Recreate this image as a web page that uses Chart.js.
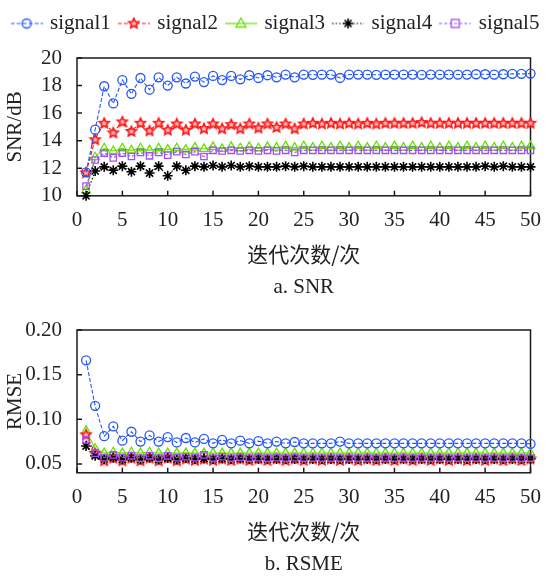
<!DOCTYPE html>
<html><head><meta charset="utf-8">
<script src="https://cdn.jsdelivr.net/npm/chart.js@4.4.0/dist/chart.umd.min.js"></script>
<style>
html,body{margin:0;padding:0;background:#fff;}
#wrap{position:relative;width:553px;height:577px;}
canvas{position:absolute;left:0;}
</style></head><body>
<div id="wrap">
<canvas id="c1" width="553" height="300" style="top:0"></canvas>
<canvas id="c2" width="553" height="277" style="top:300px"></canvas>
</div>
<script>
// ---------- data ----------
const iterations = [1,2,3,4,5,6,7,8,9,10,11,12,13,14,15,16,17,18,19,20,21,22,23,24,25,26,27,28,29,30,31,32,33,34,35,36,37,38,39,40,41,42,43,44,45,46,47,48,49,50];
const xTickValues = [0,5,10,15,20,25,30,35,40,45,50];
const snrTickValues = [10,12,14,16,18,20];
const rmseTickValues = [0.05,0.10,0.15,0.20];
const seriesNames = ['signal1','signal2','signal3','signal4','signal5'];

const snr1 = [11.7,14.8,17.95,16.7,18.4,17.4,18.55,17.7,18.6,18.0,18.6,18.15,18.65,18.25,18.7,18.4,18.7,18.45,18.75,18.55,18.75,18.6,18.8,18.6,18.8,18.78,18.8,18.8,18.55,18.8,18.8,18.8,18.78,18.8,18.8,18.8,18.8,18.78,18.8,18.8,18.8,18.8,18.8,18.82,18.82,18.8,18.82,18.85,18.85,18.87];
const snr2 = [11.7,14.1,15.3,14.6,15.4,14.7,15.3,14.75,15.3,14.8,15.25,14.8,15.25,14.9,15.25,14.9,15.2,14.9,15.25,14.95,15.25,15.0,15.25,14.9,15.25,15.3,15.25,15.3,15.25,15.3,15.25,15.3,15.25,15.3,15.3,15.3,15.3,15.35,15.3,15.3,15.3,15.3,15.3,15.3,15.3,15.3,15.3,15.3,15.3,15.3];
const snr3 = [10.4,12.8,13.45,13.25,13.45,13.3,13.45,13.3,13.45,13.35,13.45,13.35,13.5,13.4,13.55,13.4,13.55,13.45,13.55,13.45,13.55,13.5,13.6,13.5,13.6,13.5,13.6,13.5,13.6,13.5,13.6,13.5,13.6,13.5,13.6,13.5,13.6,13.5,13.6,13.5,13.6,13.5,13.6,13.5,13.6,13.5,13.6,13.5,13.6,13.6];
const snr4 = [10.0,11.8,12.1,11.85,12.15,11.75,12.15,11.65,12.15,11.45,12.15,11.85,12.15,12.1,12.2,12.1,12.2,12.1,12.15,12.1,12.1,12.1,12.15,12.1,12.15,12.1,12.1,12.1,12.1,12.1,12.1,12.1,12.1,12.1,12.1,12.1,12.1,12.1,12.1,12.1,12.1,12.1,12.1,12.1,12.15,12.1,12.15,12.1,12.1,12.1];
const snr5 = [10.7,12.6,13.1,12.75,13.1,12.85,13.15,12.9,13.15,12.95,13.2,13.0,13.2,12.85,13.3,13.25,13.3,13.25,13.3,13.25,13.3,13.25,13.3,13.15,13.3,13.3,13.3,13.3,13.3,13.3,13.3,13.3,13.3,13.3,13.3,13.3,13.3,13.3,13.3,13.3,13.3,13.3,13.3,13.3,13.3,13.3,13.3,13.3,13.3,13.3];

const rmse1 = [0.166,0.115,0.081,0.092,0.076,0.086,0.075,0.082,0.075,0.080,0.074,0.079,0.074,0.078,0.073,0.077,0.073,0.076,0.073,0.0755,0.073,0.075,0.073,0.0745,0.073,0.073,0.073,0.073,0.075,0.073,0.073,0.073,0.073,0.073,0.073,0.073,0.073,0.073,0.073,0.073,0.073,0.073,0.073,0.073,0.073,0.073,0.073,0.073,0.073,0.0725];
const rmse2 = [0.083,0.062,0.054,0.057,0.054,0.057,0.054,0.057,0.054,0.057,0.054,0.056,0.0545,0.056,0.0545,0.056,0.0545,0.056,0.0545,0.056,0.0545,0.056,0.0545,0.056,0.0545,0.056,0.0545,0.056,0.0545,0.056,0.0545,0.056,0.0545,0.056,0.0545,0.056,0.0545,0.056,0.0545,0.056,0.0545,0.056,0.0545,0.056,0.0545,0.056,0.0545,0.056,0.0545,0.056];
const rmse3 = [0.087,0.067,0.062,0.063,0.062,0.063,0.062,0.063,0.062,0.062,0.062,0.062,0.062,0.062,0.062,0.062,0.062,0.062,0.062,0.062,0.062,0.062,0.062,0.062,0.062,0.062,0.062,0.062,0.062,0.062,0.062,0.062,0.062,0.062,0.062,0.062,0.062,0.062,0.062,0.062,0.062,0.062,0.062,0.062,0.062,0.062,0.062,0.062,0.062,0.062];
const rmse4 = [0.070,0.059,0.0555,0.057,0.055,0.057,0.055,0.057,0.055,0.0565,0.055,0.0565,0.0555,0.056,0.0555,0.056,0.0555,0.056,0.0555,0.0555,0.0555,0.0555,0.0555,0.0555,0.0555,0.0555,0.0555,0.0555,0.0555,0.0555,0.0555,0.0555,0.0555,0.0555,0.0555,0.0555,0.0555,0.0555,0.0555,0.0555,0.0555,0.0555,0.0555,0.0555,0.0555,0.0555,0.0555,0.0555,0.0555,0.0555];
const rmse5 = [0.077,0.062,0.057,0.060,0.057,0.059,0.0565,0.059,0.0565,0.059,0.057,0.058,0.057,0.060,0.0565,0.058,0.0565,0.0575,0.0565,0.057,0.0565,0.057,0.0565,0.057,0.0565,0.0565,0.0565,0.0565,0.0565,0.0565,0.0565,0.0565,0.0565,0.0565,0.0565,0.0565,0.0565,0.0565,0.0565,0.0565,0.0565,0.0565,0.0565,0.0565,0.0565,0.0565,0.0565,0.0565,0.0565,0.0565];

// ---------- styles ----------
const SERIF = 'Liberation Serif';
const CJK = 'Noto Sans CJK SC';
const TXT = '#222';
Chart.defaults.font.family = SERIF;
Chart.defaults.font.size = 21;
Chart.defaults.font.weight = 'normal';
Chart.defaults.color = TXT;
const colors = ['#2457f5','#ff1010','#66e000','#000000','#a050ee'];
const dashes = [[4,2],[4,2],[],[1.5,2],[3,2]];

function starPath(ctx,cx,cy,R,r){
  ctx.beginPath();
  for(let i=0;i<10;i++){
    const a=-Math.PI/2+i*Math.PI/5, rad=i%2?r:R;
    ctx.lineTo(cx+rad*Math.cos(a), cy+rad*Math.sin(a));
  }
  ctx.closePath();
}
function drawMarker(ctx,k,cx,cy){
  ctx.setLineDash([]);
  ctx.strokeStyle=colors[k]; ctx.lineWidth=1.3;
  if(k===0){ctx.beginPath();ctx.arc(cx,cy,4.5,0,Math.PI*2);ctx.stroke();}
  else if(k===1){starPath(ctx,cx,cy,5.2,2.5);ctx.fillStyle='#ffb8b8';ctx.fill();ctx.strokeStyle='#ff1010';ctx.lineWidth=1.6;ctx.stroke();}
  else if(k===2){ctx.beginPath();ctx.moveTo(cx,cy-5.5);ctx.lineTo(cx+5,cy+3.5);ctx.lineTo(cx-5,cy+3.5);ctx.closePath();ctx.stroke();}
  else if(k===3){ctx.beginPath();for(let i=0;i<4;i++){const a=i*Math.PI/4;ctx.moveTo(cx-5*Math.cos(a),cy-5*Math.sin(a));ctx.lineTo(cx+5*Math.cos(a),cy+5*Math.sin(a));}ctx.lineWidth=1.6;ctx.stroke();}
  else {ctx.strokeRect(cx-4,cy-4,8,8);}
}
function redStar(){
  const c=document.createElement('canvas'); c.width=14;c.height=14;
  drawMarker(c.getContext('2d'),1,7,7.5); return c;
}
function legendIcon(k){
  const c=document.createElement('canvas'); c.width=32;c.height=14;
  const ctx=c.getContext('2d');
  ctx.strokeStyle=colors[k]; ctx.lineWidth=1.2; ctx.setLineDash(dashes[k]);
  ctx.beginPath();ctx.moveTo(0,7);ctx.lineTo(32,7);ctx.stroke();
  drawMarker(ctx,k,16,7); return c;
}
const pointStyles = ['circle', redStar(), 'triangle', 'star', 'rect'];
const pointRadii = [4.5,6,5,5,4.5];
const drawOrder = [2,3,4,1,0];

function makeDatasets(series){
  return series.map((vals,k)=>({
    label: seriesNames[k],
    data: iterations.map((it,i)=>({x:it,y:vals[i]})),
    borderColor: colors[k], backgroundColor:'rgba(0,0,0,0)',
    borderWidth:1.1, borderDash:dashes[k],
    pointStyle: pointStyles[k], pointRadius: pointRadii[k],
    pointBorderColor: colors[k], pointBackgroundColor:'rgba(0,0,0,0)',
    pointBorderWidth: k===3?1.6:1.3,
    tension:0, clip:false, order: drawOrder[k]
  }));
}

const frame = {
  id:'frame',
  beforeDatasetsDraw(chart){
    const {ctx, chartArea:a, scales:{x,y}} = chart;
    ctx.save(); ctx.strokeStyle='#1a1a1a'; ctx.lineWidth=1.5; ctx.setLineDash([]);
    ctx.strokeRect(a.left,a.top,a.right-a.left,a.bottom-a.top);
    ctx.beginPath();
    x.ticks.forEach(t=>{const px=x.getPixelForValue(t.value); ctx.moveTo(px,a.bottom); ctx.lineTo(px,a.bottom-5);});
    y.ticks.forEach(t=>{const py=y.getPixelForValue(t.value); ctx.moveTo(a.left,py); ctx.lineTo(a.left+5,py);});
    ctx.stroke(); ctx.restore();
  }
};
// extra space between legend and plot area
const legendGap = {
  id:'legendGap',
  afterInit(chart){
    const lg = chart.legend;
    if(!lg) return;
    const orig = lg.fit.bind(lg);
    lg.fit = function(){ orig(); this.height += 14; };
  }
};

function makeOptions(o){
  return {
    responsive:false, animation:false, events:[],
    layout:{padding:{left:0,right:0,top:o.padTop,bottom:0}},
    plugins:{
      legend: o.legend ? {
        display:true, position:'top',
        labels:{
          usePointStyle:true, pointStyleWidth:26, boxHeight:14, padding:10,
          font:{family:SERIF,size:21,weight:'normal'}, color:TXT,
          generateLabels:(chart)=>seriesNames.map((n,k)=>({text:n,pointStyle:legendIcon(k),fontColor:TXT,datasetIndex:k,hidden:false,lineWidth:0,strokeStyle:'rgba(0,0,0,0)',fillStyle:'rgba(0,0,0,0)'}))
        }
      } : {display:false},
      title:{display:true,text:o.caption,position:'bottom',fullSize:false,font:{family:SERIF,size:21,weight:'normal'},color:TXT,padding:{top:0,bottom:0}},
      tooltip:{enabled:false}
    },
    scales:{
      x:{type:'linear',min:0,max:50,
        grid:{display:false,drawTicks:false}, border:{display:false},
        afterBuildTicks:s=>{s.ticks=xTickValues.map(v=>({value:v}));},
        ticks:{padding:12,font:{family:SERIF,size:21,weight:'normal'},color:TXT,maxRotation:0,autoSkip:false},
        title:{display:true,text:'迭代次数/次',font:{family:CJK,size:21,weight:'normal'},color:TXT,padding:{top:0,bottom:8}},
        afterFit:s=>{s.height=79;}
      },
      y:{type:'linear',min:o.ymin,max:o.ymax,
        grid:{display:false,drawTicks:false}, border:{display:false},
        afterBuildTicks:s=>{s.ticks=o.yticks.map(v=>({value:v}));},
        ticks:{padding:15,font:{family:SERIF,size:21,weight:'normal'},color:TXT,callback:o.fmt,autoSkip:false},
        title:{display:true,text:o.ytitle,font:{family:SERIF,size:21,weight:'normal'},color:TXT,padding:{top:3,bottom:0}},
        afterFit:s=>{s.width=77;}
      },
      // empty right-hand spacer so the plot ends at the same place as the reference
      yR:{type:'linear',position:'right',display:true,
        grid:{display:false,drawTicks:false}, border:{display:false},
        ticks:{display:false}, title:{display:false},
        afterFit:s=>{s.width=21;}
      }
    }
  };
}

new Chart(document.getElementById('c1'),{
  type:'line',
  data:{datasets:makeDatasets([snr1,snr2,snr3,snr4,snr5])},
  options:makeOptions({padTop:3,legend:true,caption:'a. SNR',ymin:10,ymax:20,yticks:snrTickValues,ytitle:'SNR/dB',fmt:v=>String(v)}),
  plugins:[frame,legendGap]
});
new Chart(document.getElementById('c2'),{
  type:'line',
  data:{datasets:makeDatasets([rmse1,rmse2,rmse3,rmse4,rmse5])},
  options:makeOptions({padTop:30,legend:false,caption:'b. RSME',ymin:0.04,ymax:0.20,yticks:rmseTickValues,ytitle:'RMSE',fmt:v=>Number(v).toFixed(2)}),
  plugins:[frame]
});
</script>
</body></html>
